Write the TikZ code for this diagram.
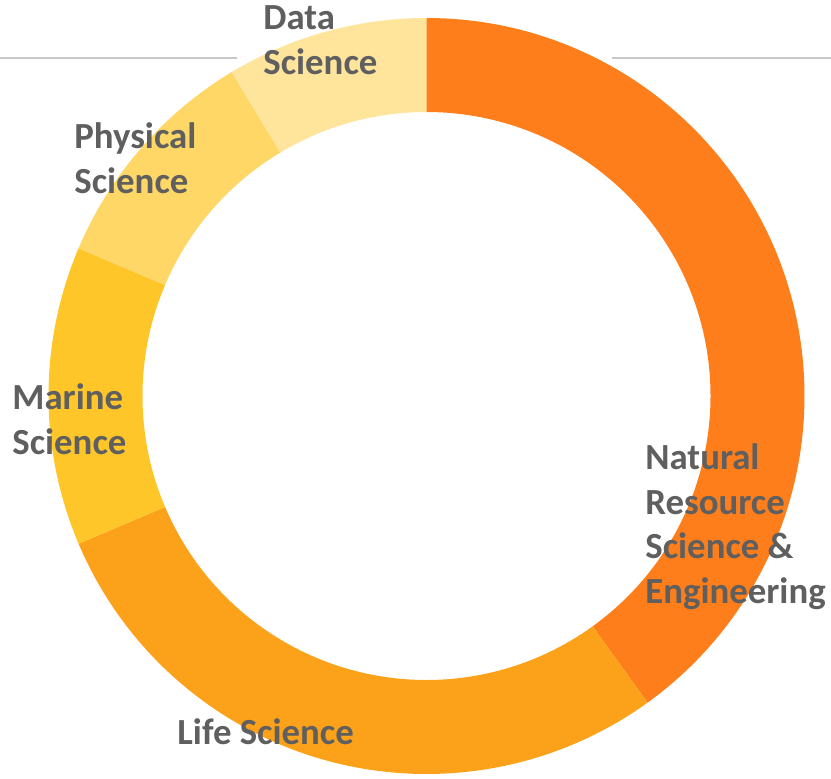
\documentclass[tikz,border=0pt]{standalone}
\usepackage{xcolor}
\usepackage{fontspec}
\setmainfont{Carlito}
\usepackage{tikz}

\definecolor{natres}{HTML}{FD7E1B}
\definecolor{lifesci}{HTML}{FCA11A}
\definecolor{marine}{HTML}{FFC629}
\definecolor{physsci}{HTML}{FED766}
\definecolor{datasci}{HTML}{FFE49B}
\definecolor{labelgray}{HTML}{5F5F5F}
\definecolor{rulegray}{HTML}{C8C8C8}

\tikzset{lbl/.style={font=\fontsize{18.4}{22.25}\selectfont\bfseries,text=labelgray,align=left,inner sep=0pt,anchor=base west}}

\begin{document}
\begin{tikzpicture}[x=0.5pt,y=0.5pt]

\useasboundingbox (-426.5,-382) rectangle (404.5,396);

\draw [rulegray,line width=1pt] (-426.5,338) -- (-189.5,338);
\draw [rulegray,line width=1pt] (185.5,338) -- (404.5,338);

\fill [natres] (90:378) arc[start angle=90,end angle=-54.2,radius=378] -- (-54.2:284) arc[start angle=-54.2,end angle=90,radius=284] -- cycle;
\fill [lifesci] (-54.2:378) arc[start angle=-54.2,end angle=-157,radius=378] -- (-157:284) arc[start angle=-157,end angle=-54.2,radius=284] -- cycle;
\fill [marine] (203:378) arc[start angle=203,end angle=157,radius=378] -- (157:284) arc[start angle=157,end angle=203,radius=284] -- cycle;
\fill [physsci] (157:378) arc[start angle=157,end angle=121,radius=378] -- (121:284) arc[start angle=121,end angle=157,radius=284] -- cycle;
\fill [datasci] (121:378) arc[start angle=121,end angle=90,radius=378] -- (90:284) arc[start angle=90,end angle=121,radius=284] -- cycle;

% base anchor sits on the last line
\node [lbl] (v1) at (-163.5,322) {Data\\Science};
\node [lbl] (v2) at (-352.5,203) {Physical\\Science};
\node [lbl] (v3) at (-414.5,-58) {Marine\\Science};
\node [lbl] (v4) at (218.5,-207) {Natural\\Resource\\Science \&\\Engineering};
\node [lbl] (v5) at (-249.5,-348) {Life Science};

\end{tikzpicture}
\end{document}
